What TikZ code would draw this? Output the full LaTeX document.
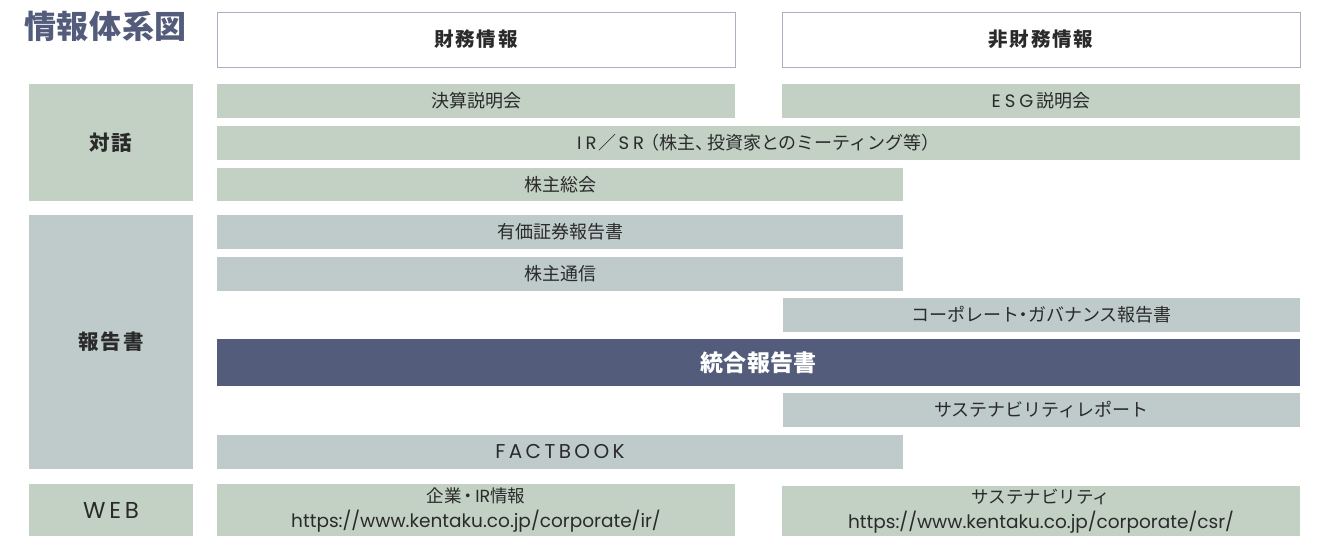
\documentclass[tikz,border=0pt]{standalone}
\usepackage{fontspec}
\setmainfont{Noto Sans CJK JP}
\newfontfamily\latinf{Poppins}
\definecolor{navy}{HTML}{535C7B}
\definecolor{gr}{HTML}{C3D1C5}
\definecolor{gb}{HTML}{BFCBCA}
\definecolor{hb}{HTML}{A9B0C4}
\definecolor{tx}{HTML}{2A2A2A}
\newcommand\ndot{\kern-4.5pt・\kern-4.5pt}
\newcommand\sdot{\kern-2pt・\kern-2pt}
\begin{document}
\begin{tikzpicture}[x=1pt,y=-1pt,
  cell/.style={anchor=north west,inner sep=0pt,outer sep=0pt,text=tx,align=center,font=\fontsize{18}{21}\selectfont},
  grn/.style={cell,fill=gr},
  gry/.style={cell,fill=gb},
  hdr/.style={cell,fill=white,draw=hb,line width=1pt,font=\fontsize{19.5}{22}\selectfont\bfseries\addfontfeatures{LetterSpace=9}},
  side/.style={cell,font=\fontsize{20.5}{23}\selectfont\bfseries\addfontfeatures{LetterSpace=9}}]
\useasboundingbox (0,0) rectangle (1319,536);
\node[anchor=north west,inner sep=0pt,text=navy,font=\fontsize{32}{34}\selectfont\bfseries\addfontfeatures{LetterSpace=2}] (title) at (24,11) {情報体系図};
\node[hdr,minimum width=518pt,minimum height=55pt] (fin) at (217,12) {財務情報};
\node[hdr,minimum width=518pt,minimum height=55pt] (nonfin) at (782,12) {非財務情報};
% dialogue
\node[side,fill=gr,minimum width=164pt,minimum height=117pt] (dlg) at (29,84) {対話};
\node[grn,minimum width=518pt,minimum height=34pt] (kessan) at (217,84) {決算説明会};
\node[grn,minimum width=518pt,minimum height=34pt] (esg) at (782,84) {{\latinf E\kern4pt S\kern4pt G}\kern3pt 説明会};
\node[grn,minimum width=1083pt,minimum height=34pt] (irsr) at (217,126) {{\latinf I\kern4pt R}\kern2pt／\kern2pt{\latinf S\kern4pt R}\kern-3pt（株主、\kern-6pt 投資家とのミーティング等）};
\node[grn,minimum width=686pt,minimum height=33pt] (soukai) at (217,168) {株主総会};
% reports
\node[side,fill=gb,minimum width=164pt,minimum height=254pt] (rep) at (29,215) {報告書};
\node[gry,minimum width=686pt,minimum height=34pt] (yuho) at (217,215) {有価証券報告書};
\node[gry,minimum width=686pt,minimum height=34pt] (tsushin) at (217,257) {株主通信};
\node[gry,minimum width=517pt,minimum height=34pt] (cg) at (783,298) {コーポレート\ndot ガバナンス報告書};
\node[cell,fill=navy,text=white,minimum width=1083pt,minimum height=47pt,font=\fontsize{23}{26}\selectfont\bfseries\addfontfeatures{LetterSpace=1}] (ir) at (217,339) {統合報告書};
\node[gry,minimum width=517pt,minimum height=34pt] (sr) at (783,393) {サステナビリティレポート};
\node[gry,minimum width=686pt,minimum height=34pt,font=\latinf\fontsize{20}{22}\selectfont\addfontfeatures{LetterSpace=17}] (fb) at (217,435) {FACTBOOK};
% web
\node[cell,fill=gr,minimum width=164pt,minimum height=52pt,font=\latinf\fontsize{23}{25}\selectfont\addfontfeatures{LetterSpace=16}] (web) at (29,484) {WEB};
\node[grn,minimum width=518pt,minimum height=52pt,font=\fontsize{17.5}{21}\selectfont] (webir) at (217,484) {企業\sdot{\latinf IR}情報\\[3.5pt]{\latinf\fontsize{18.5}{20}\selectfont https://www.kentaku.co.jp/corporate/ir/}};
\node[grn,minimum width=518pt,minimum height=50pt,font=\fontsize{17.5}{21}\selectfont] (webcsr) at (782,486) {サステナビリティ\\[3.5pt]{\latinf\fontsize{18.5}{20}\selectfont https://www.kentaku.co.jp/corporate/csr/}};
\end{tikzpicture}
\end{document}
